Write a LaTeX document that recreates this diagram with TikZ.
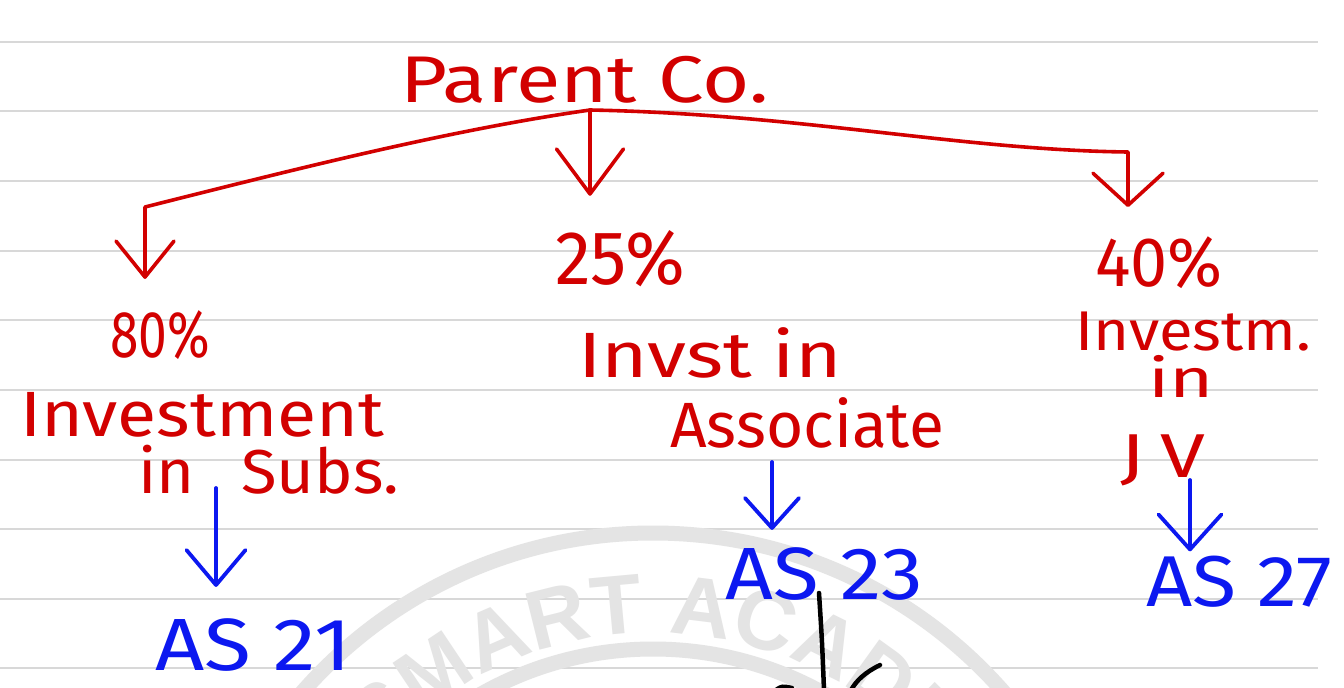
\documentclass[tikz,border=0pt]{standalone}
\usepackage{fontspec}
\setmainfont{Fira Sans}
\newfontfamily\wmfont{Liberation Sans}
\usetikzlibrary{arrows.meta,decorations.text,calc}
\definecolor{hwred}{RGB}{210,0,0}
\definecolor{hwblue}{RGB}{12,24,240}
\definecolor{paperline}{RGB}{216,216,216}
\definecolor{wmgray}{RGB}{228,228,228}
\newcommand{\hw}[2]{\scalebox{#1}[1]{#2}}
\begin{document}
\begin{tikzpicture}[x=1pt,y=-1pt,
  redtxt/.style={text=hwred,inner sep=0pt,anchor=base west},
  bluetxt/.style={text=hwblue,inner sep=0pt,anchor=base west},
  hwfont/.style={font=\fontsize{#1}{#1}\selectfont},
  redline/.style={draw=hwred,line width=3.6pt,line cap=round,line join=round},
  blueline/.style={draw=hwblue,line width=3.8pt,line cap=round,line join=round},
  vtip/.style 2 args={-{Straight Barb[length=#1,width=#2,line cap=round,line join=round]}},
  ruling/.style={draw=paperline,line width=2pt},
  wmring/.style={draw=wmgray,line width=15pt},
  pen/.style={draw=black,line width=4.5pt,line cap=round}
]
\useasboundingbox (0,0) rectangle (1344,688);
\fill[white] (0,0) rectangle (1344,688);
% ruled paper
\foreach \yy in {42,111,181,251,320,390,460,529,599,668}
  \draw[ruling] (0,\yy) -- (1318,\yy);
% watermark
\begin{scope}
\clip (0,0) rectangle (1344,688);
\coordinate (wmc) at (653,999);
\draw[wmring] (wmc) circle[radius=466];
\draw[wmring] (wmc) circle[radius=350];
\path[decorate,decoration={text along path,text align=left,
  text={|\wmfont\bfseries\fontsize{84}{84}\selectfont\color{wmgray}|SMART ACADEMY}}]
  ($(wmc)+(-138:366)$) arc[start angle=-138,end angle=30,radius=366];
\end{scope}
% texts
\node[redtxt,hwfont=66] (parent) at (400,102) {\hw{1.23}{Parent Co.}};
\node[redtxt,hwfont=76] (pct25) at (555,284) {\hw{0.95}{25\%}};
\node[redtxt,hwfont=66] (pct80) at (110,357) {\hw{0.78}{80\%}};
\node[redtxt,hwfont=70] (pct40) at (1095,286) {\hw{0.95}{40\%}};
\node[redtxt,hwfont=64] (invest) at (20,436) {\hw{1.12}{Investment}};
\node[redtxt,hwfont=62] (insubs) at (138,493) {\hw{1.05}{in\hspace{28pt} Subs.}};
\node[redtxt,hwfont=64] (invst) at (578,377) {\hw{1.24}{Invst in}};
\node[redtxt,hwfont=64] (assoc) at (670,447) {Associate};
\node[redtxt,hwfont=56] (investm) at (1075,350) {\hw{1.1}{Investm.}};
\node[redtxt,hwfont=54] (inj) at (1148,397) {\hw{1.4}{in}};
\node[redtxt,hwfont=62] (jv) at (1120,477) {\hw{1.3}{J\hspace{12pt}V}};
\node[bluetxt,hwfont=74] (as21) at (155,670) {\hw{1.16}{AS 21}};
\node[bluetxt,hwfont=74] (as23) at (725,599) {\hw{1.13}{AS 23}};
\node[bluetxt,hwfont=72] (as27) at (1146,606) {\hw{1.12}{AS 27}};
% red tree
\coordinate (hub) at (590,110);
\coordinate (lc) at (145,207);
\coordinate (rc) at (1128,152);
\draw[redline,vtip={36pt}{58pt},shorten >=31pt] (hub) .. controls (450,130) and (300,168) .. (lc) -- (lc |- pct80.north);
\draw[redline,vtip={45pt}{67pt},shorten >=34pt] (hub) -- (hub |- pct25.north);
\draw[redline,vtip={32pt}{70pt},shorten >=29pt] (hub) .. controls (800,114) and (960,150) .. (rc) -- (rc |- pct40.north);
% blue arrows
\coordinate (b1) at ($(insubs.base west)+(78,-5)$);
\coordinate (b2) at ($(assoc.base west)+(102,15)$);
\coordinate (b3) at ($(jv.base west)+(70,3)$);
\draw[blueline,vtip={35pt}{59pt},shorten >=31pt] (b1) -- (b1 |- as21.north);
\draw[blueline,vtip={30pt}{54pt},shorten >=17pt] (b2) -- (b2 |- as23.north);
\draw[blueline,vtip={35pt}{63pt},shorten >=4pt] (b3) -- (b3 |- as27.north);
% black pen strokes
\draw[pen] (819,593) .. controls (822,640) .. (824,690);
\draw[pen] (880,665) .. controls (866,672) and (856,680) .. (850,692);
\draw[pen] (776,690) .. controls (782,686) .. (792,688);
\end{tikzpicture}
\end{document}
